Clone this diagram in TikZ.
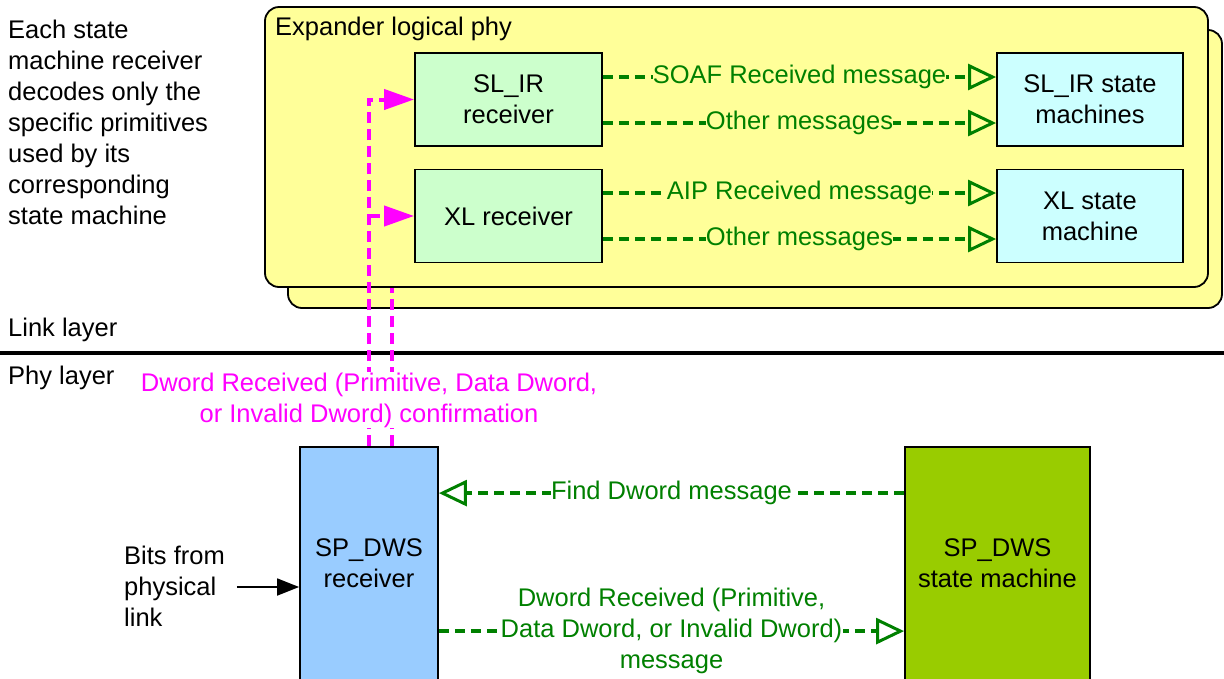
\documentclass[tikz,border=0pt]{standalone}
\usepackage{fontspec}
\setmainfont{Liberation Sans}
\usetikzlibrary{arrows.meta,calc}
\definecolor{ylw}{HTML}{FFFF99}
\definecolor{lgreen}{HTML}{CCFFCC}
\definecolor{lcyan}{HTML}{CCFFFF}
\definecolor{lblue}{HTML}{99CCFF}
\definecolor{olive}{HTML}{99CC00}
\definecolor{dgreen}{HTML}{008000}
\definecolor{mag}{HTML}{FF00FF}
\begin{document}
\begin{tikzpicture}[x=1pt,y=-1pt,
  every node/.style={font=\fontsize{25.5}{31}\selectfont},
  container/.style={draw, line width=1.8pt, rounded corners=14pt, fill=ylw, inner sep=0pt},
  blk/.style={draw, line width=1.8pt, align=center, inner sep=0pt},
  txt/.style={align=left, inner sep=0pt},
  gmsg/.style={draw=dgreen, line width=3.5pt, dash pattern=on 10pt off 6pt, -{Triangle[open, length=28pt, width=26pt, line width=3pt]}},
  glab/.style={text=dgreen, fill=#1, inner sep=0.3pt, align=center},
  glab/.default=ylw,
  magline/.style={draw=mag, line width=4pt, dash pattern=on 11pt off 6pt},
  magarrow/.style={magline, -{Triangle[length=30pt, width=20pt]}},
]
\useasboundingbox (0,0) rectangle (1224,678);

% containers
\node[container, minimum width=934pt, minimum height=278pt] (back) at (755,169) {};
\node[container, minimum width=943pt, minimum height=280pt] (front) at (736.5,147) {};
\node[txt, anchor=west] (eltitle) at (275,29) {Expander logical phy};

% layer separator
\coordinate (sepL) at (0,353);
\coordinate (sepR) at (1224,353);
\draw[line width=4pt] (sepL) -- (sepR);
\node[txt, anchor=west] (link) at (8,330) {Link layer};
\node[txt, anchor=west] (phy) at (8,378) {Phy layer};

% note
\node[txt, anchor=west] (note) at (8,122) {Each state\\machine receiver\\decodes only the\\specific primitives\\used by its\\corresponding\\state machine};

% receivers and state machines
\node[blk, fill=lgreen, minimum width=187pt, minimum height=93pt] (slir) at (508.5,99.5) {SL\_IR\\receiver};
\node[blk, fill=lgreen, minimum width=187pt, minimum height=93pt] (xlr) at (508.5,216) {XL receiver};
\node[blk, fill=lcyan, minimum width=186pt, minimum height=93pt] (slsm) at (1090,99.5) {SL\_IR state\\machines};
\node[blk, fill=lcyan, minimum width=186pt, minimum height=93pt] (xlsm) at (1090,216) {XL state\\machine};

% green messages (top)
\draw[gmsg] ($(slir.east)+(0,-22.5)$) -- node[glab]{SOAF Received message} ($(slsm.west)+(0,-22.5)$);
\draw[gmsg] ($(slir.east)+(0,23.5)$) -- node[glab]{Other messages} ($(slsm.west)+(0,23.5)$);
\draw[gmsg] ($(xlr.east)+(0,-23)$) -- node[glab]{AIP Received message} ($(xlsm.west)+(0,-23)$);
\draw[gmsg] ($(xlr.east)+(0,23)$) -- node[glab]{Other messages} ($(xlsm.west)+(0,23)$);

% bottom blocks
\node[blk, fill=lblue, minimum width=138pt, minimum height=233pt] (dws) at (369,563.5) {SP\_DWS\\receiver};
\node[blk, fill=olive, minimum width=185pt, minimum height=233pt] (dwssm) at (997.5,563.5) {SP\_DWS\\state machine};

% magenta confirmation lines
\coordinate (m1) at (dws.north);
\coordinate (m2) at ($(dws.north)+(23,0)$);
\draw[magarrow] (m1) |- (slir.west);
\draw[magarrow] (m1 |- xlr.west) -- (xlr.west);
\draw[magline] (m2) -- (m2 |- front.south);
\node[text=mag, fill=white, inner sep=1pt, align=center] (conf) at (369,400) {Dword Received (Primitive, Data Dword,\\or Invalid Dword) confirmation};

% bottom messages
\draw[gmsg] ($(dwssm.north west)+(0,47)$) -- node[glab=white]{Find Dword message} ($(dws.north east)+(0,47)$);
\draw[gmsg] ($(dws.north east)+(0,185)$) -- node[glab=white]{Dword Received (Primitive,\\Data Dword, or Invalid Dword)\\message} ($(dwssm.north west)+(0,185)$);

% bits input
\node[txt, anchor=west] (bits) at (124,586) {Bits from\\physical\\link};
\draw[line width=1.8pt, -{Triangle[length=22pt, width=17pt]}] ($(bits.east)+(12,1)$) -- ($(bits.east -| dws.west)+(0,1)$);
\end{tikzpicture}
\end{document}
